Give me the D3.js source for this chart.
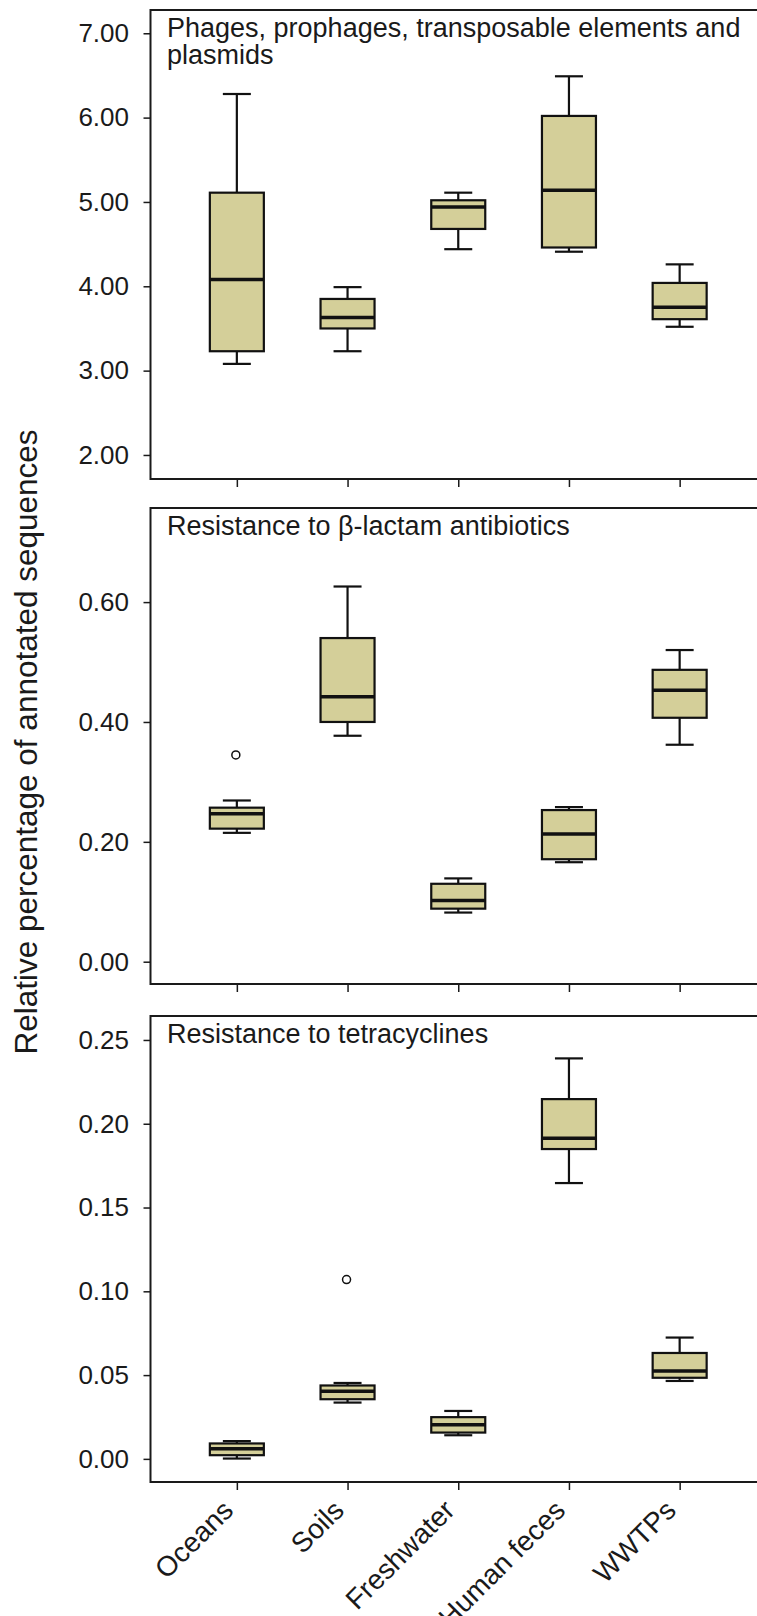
<!DOCTYPE html>
<html>
<head>
<meta charset="utf-8">
<script src="https://cdn.jsdelivr.net/npm/d3@7"></script>
<style>
  body { margin: 0; background: #fff; }
  svg { display: block; }
</style>
</head>
<body>
<script>

// categories on the x axis
var categories = ["Oceans", "Soils", "Freshwater", "Human feces", "WWTPs"];

// five number summaries per category: [min, q1, median, q3, max]
var phagesStats = [
    [3.08, 3.23, 4.08, 5.11, 6.28],
    [3.23, 3.50, 3.63, 3.85, 3.99],
    [4.44, 4.68, 4.94, 5.02, 5.11],
    [4.41, 4.46, 5.14, 6.02, 6.49],
    [3.52, 3.61, 3.75, 4.04, 4.26]
];
var betaLactamStats = [
    [0.215, 0.222, 0.247, 0.257, 0.269],
    [0.377, 0.400, 0.442, 0.540, 0.626],
    [0.082, 0.0885, 0.102, 0.130, 0.139],
    [0.166, 0.171, 0.213, 0.253, 0.258],
    [0.362, 0.407, 0.453, 0.487, 0.520]
];
var tetracyclineStats = [
    [0.0002, 0.0022, 0.0060, 0.0092, 0.0106],
    [0.0336, 0.0356, 0.0404, 0.0438, 0.0453],
    [0.0141, 0.0157, 0.0204, 0.0249, 0.0286],
    [0.1646, 0.1849, 0.1914, 0.2147, 0.2390],
    [0.0465, 0.0484, 0.0525, 0.0632, 0.0724]
];

// outliers: [category, value]
var betaLactamOutliers = [["Oceans", 0.345]];
var tetracyclineOutliers = [["Soils", 0.107]];

// tick values
var phagesTicks = [2, 3, 4, 5, 6, 7];
var betaLactamTicks = [0, 0.2, 0.4, 0.6];
var tetracyclineTicks = [0, 0.05, 0.10, 0.15, 0.20, 0.25];

var yLabel = "Relative percentage of annotated sequences";

function makePlot(){

    const width = 757;
    const height = 1616;
    const marginLeft = 150.5;
    const frameRight = 766;
    const font = "'Liberation Sans', Arial, sans-serif";
    const boxFill = "#d4cf99";
    const boxWidth = 54;
    const capWidth = 28;

    const panels = [
        {title: ["Phages, prophages, transposable elements and", "plasmids"], stats: phagesStats,
         outliers: [], ticks: phagesTicks, domain: [1.715, 7.276], top: 10, bottom: 479, labels: false},
        {title: ["Resistance to \u03b2-lactam antibiotics"], stats: betaLactamStats,
         outliers: betaLactamOutliers, ticks: betaLactamTicks, domain: [-0.0372, 0.757], top: 508, bottom: 984, labels: false},
        {title: ["Resistance to tetracyclines"], stats: tetracyclineStats,
         outliers: tetracyclineOutliers, ticks: tetracyclineTicks, domain: [-0.0138, 0.2643], top: 1016, bottom: 1482, labels: true}
    ];

    const svg = d3.create("svg")
        .attr("width", width)
        .attr("height", height)
        .attr("viewBox", [0, 0, width, height])
        .style("font-family", font);

    document.body.appendChild(svg.node());

    const x = d3.scalePoint()
        .domain(categories)
        .range([marginLeft, frameRight])
        .padding(0.78);

    panels.forEach(p => {

        const y = d3.scaleLinear()
            .domain(p.domain)
            .range([p.bottom, p.top]);

        const g = svg.append("g");

        // frame
        g.append("rect")
            .attr("x", marginLeft)
            .attr("y", p.top)
            .attr("width", frameRight - marginLeft)
            .attr("height", p.bottom - p.top)
            .attr("fill", "none")
            .attr("stroke", "#1a1a1a")
            .attr("stroke-width", 2);

        // y axis
        g.append("g")
            .attr("transform", `translate(${marginLeft},0)`)
            .call(d3.axisLeft(y).tickValues(p.ticks).tickFormat(d3.format(".2f"))
                .tickSize(7).tickPadding(14.5).tickSizeOuter(0))
            .call(a => a.select(".domain").remove())
            .call(a => a.selectAll(".tick line").attr("stroke", "#1a1a1a").attr("stroke-width", 1.5))
            .call(a => a.selectAll(".tick text")
                .attr("font-family", font)
                .attr("font-size", 26)
                .attr("fill", "#1a1a1a"));

        // x axis
        const xa = g.append("g")
            .attr("transform", `translate(0,${p.bottom})`)
            .call(d3.axisBottom(x).tickSize(8).tickSizeOuter(0))
            .call(a => a.select(".domain").remove())
            .call(a => a.selectAll(".tick line").attr("stroke", "#1a1a1a").attr("stroke-width", 1.5));

        xa.selectAll(".tick text").remove();

        if (p.labels){
            g.append("g")
                .selectAll()
                .data(categories)
                .join("text")
                .attr("transform", d => `translate(${x(d) - 2},${p.bottom + 30}) rotate(-45)`)
                .attr("text-anchor", "end")
                .attr("font-size", 28)
                .attr("fill", "#1a1a1a")
                .text(d => d);
        }

        // title
        g.append("text")
            .attr("x", 167)
            .attr("y", p.top + 27)
            .attr("font-size", 27)
            .attr("fill", "#1a1a1a")
            .selectAll("tspan")
            .data(p.title)
            .join("tspan")
            .attr("x", 167)
            .attr("dy", (d, i) => i ? 27 : 0)
            .text(d => d);

        // boxes
        const box = g.append("g")
            .selectAll()
            .data(p.stats.map((s, i) => ({cat: categories[i], s: s})))
            .join("g")
            .attr("stroke", "#111")
            .attr("stroke-width", 2.2);

        // whiskers
        box.append("line")
            .attr("x1", d => x(d.cat))
            .attr("x2", d => x(d.cat))
            .attr("y1", d => y(d.s[0]))
            .attr("y2", d => y(d.s[1]));
        box.append("line")
            .attr("x1", d => x(d.cat))
            .attr("x2", d => x(d.cat))
            .attr("y1", d => y(d.s[3]))
            .attr("y2", d => y(d.s[4]));

        // caps
        box.append("line")
            .attr("x1", d => x(d.cat) - capWidth / 2)
            .attr("x2", d => x(d.cat) + capWidth / 2)
            .attr("y1", d => y(d.s[0]))
            .attr("y2", d => y(d.s[0]));
        box.append("line")
            .attr("x1", d => x(d.cat) - capWidth / 2)
            .attr("x2", d => x(d.cat) + capWidth / 2)
            .attr("y1", d => y(d.s[4]))
            .attr("y2", d => y(d.s[4]));

        box.append("rect")
            .attr("x", d => x(d.cat) - boxWidth / 2)
            .attr("y", d => y(d.s[3]))
            .attr("width", boxWidth)
            .attr("height", d => y(d.s[1]) - y(d.s[3]))
            .attr("fill", boxFill);

        // median
        box.append("line")
            .attr("x1", d => x(d.cat) - boxWidth / 2)
            .attr("x2", d => x(d.cat) + boxWidth / 2)
            .attr("y1", d => y(d.s[2]))
            .attr("y2", d => y(d.s[2]))
            .attr("stroke-width", 3.5);

        // outliers
        g.append("g")
            .selectAll()
            .data(p.outliers)
            .join("circle")
            .attr("cx", d => x(d[0]) - 1)
            .attr("cy", d => y(d[1]))
            .attr("r", 4)
            .attr("fill", "none")
            .attr("stroke", "#111")
            .attr("stroke-width", 1.5);
    });

    // y axis title
    svg.append("text")
        .attr("transform", "translate(37,742) rotate(-90)")
        .attr("text-anchor", "middle")
        .attr("font-size", 31.5)
        .attr("fill", "#1a1a1a")
        .text(yLabel);

    return svg.node();
}

makePlot();
</script>
</body>
</html>
